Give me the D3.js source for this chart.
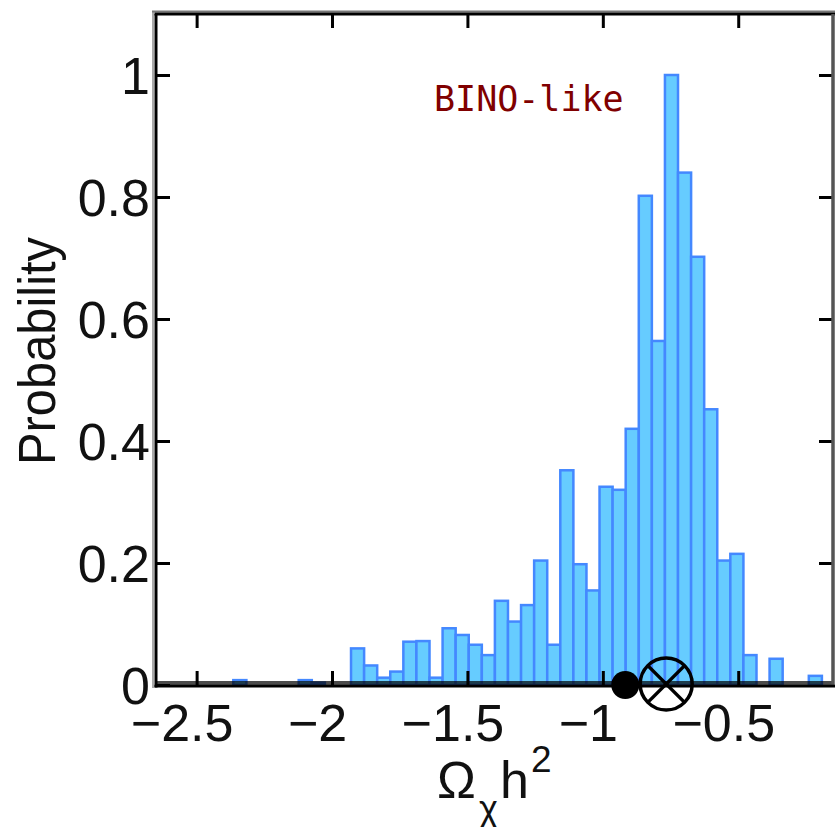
<!DOCTYPE html>
<html>
<head>
<meta charset="utf-8">
<script src="https://cdn.jsdelivr.net/npm/d3@7"></script>
<style>
  html, body { margin: 0; padding: 0; background: #ffffff; }
  svg { display: block; }
</style>
</head>
<body>
<svg id="chart" width="835" height="827"></svg>
<script>
// Histogram of log10(Ω h²): first bin edge and common bin width
const binStart = -2.3645;
const binWidth = 0.0483;
// Normalised probability per bin (peak = 1)
const probability = [
  0.008, 0, 0, 0, 0, 0.008, 0.004, 0, 0, 0.060,
  0.032, 0.012, 0.022, 0.071, 0.072, 0.012, 0.093, 0.082, 0.066, 0.049,
  0.138, 0.104, 0.131, 0.204, 0.066, 0.352, 0.198, 0.155, 0.325, 0.320,
  0.420, 0.802, 0.564, 1.000, 0.840, 0.702, 0.452, 0.204, 0.215, 0.049,
  0, 0.043, 0, 0, 0.015
];
const xTicks = [-2.5, -2, -1.5, -1, -0.5];
const xTickLabels = ["\u22122.5", "\u22122", "\u22121.5", "\u22121", "\u22120.5"];
const yTicks = [0, 0.2, 0.4, 0.6, 0.8, 1];
const yTickLabels = ["0", "0.2", "0.4", "0.6", "0.8", "1"];
const dotValue = -0.917;    // filled reference point
const crossValue = -0.766;  // ⊗ reference point
const panelLabel = "BINO-like";

const svg = d3.select("#chart");
const pL = 156, pR = 833, pT = 14, pB = 685;

const x = d3.scaleLinear().domain([-2.65, -0.15]).range([pL, pR]);
const y = d3.scaleLinear().domain([0, 1.1]).range([pB, pT]);

// Bars
const bins = probability.map((v, i) => ({
  x0: binStart + i * binWidth,
  x1: binStart + (i + 1) * binWidth,
  v
})).filter(d => d.v > 0);

svg.append("g").selectAll("rect")
  .data(bins)
  .join("rect")
  .attr("x", d => x(d.x0))
  .attr("y", d => y(d.v))
  .attr("width", d => x(d.x1) - x(d.x0))
  .attr("height", d => y(0) - y(d.v))
  .attr("fill", "#66ccff")
  .attr("stroke", "#4488ff")
  .attr("stroke-width", 2.5);

// Shaded strip just above the baseline
svg.append("rect")
  .attr("x", pL).attr("y", pB - 4)
  .attr("width", pR - pL).attr("height", 4)
  .attr("fill", "#000").attr("opacity", 0.7);

const font = "'Liberation Sans', Arial, Helvetica, sans-serif";

// Axes (ticks pointing inward)
const gx = svg.append("g").attr("transform", `translate(0,${pB})`)
  .call(d3.axisBottom(x).tickValues(xTicks)
    .tickFormat((d, i) => xTickLabels[i])
    .tickSizeInner(-14).tickSizeOuter(0).tickPadding(19));
const gy = svg.append("g").attr("transform", `translate(${pL},0)`)
  .call(d3.axisLeft(y).tickValues(yTicks)
    .tickFormat((d, i) => yTickLabels[i])
    .tickSizeInner(-14).tickSizeOuter(0).tickPadding(6));
const gt = svg.append("g").attr("transform", `translate(0,${pT})`)
  .call(d3.axisTop(x).tickValues(xTicks).tickFormat("")
    .tickSizeInner(-14).tickSizeOuter(0));
const gr = svg.append("g").attr("transform", `translate(${pR},0)`)
  .call(d3.axisRight(y).tickValues(yTicks.filter(d => d > 0)).tickFormat("")
    .tickSizeInner(-14).tickSizeOuter(0));

[gx, gy, gt, gr].forEach(g => {
  g.select(".domain").remove();
  g.selectAll(".tick line").attr("stroke", "#000").attr("stroke-width", 3);
  g.selectAll(".tick text")
    .attr("fill", "#111")
    .style("font-family", font)
    .style("font-size", "52px");
});
gx.selectAll(".tick text").attr("x", -15);
gy.selectAll(".tick text").attr("dy", "0.36em");

// Frame
svg.append("line").attr("x1", pL - 3).attr("x2", pL - 3)
  .attr("y1", pT - 2).attr("y2", pB + 3)
  .attr("stroke", "#aaaaaa").attr("stroke-width", 2);
svg.append("line").attr("x1", pL - 4).attr("x2", pR + 2)
  .attr("y1", pT - 2.5).attr("y2", pT - 2.5)
  .attr("stroke", "#777777").attr("stroke-width", 2);
svg.append("line").attr("x1", pL).attr("x2", pL)
  .attr("y1", pT).attr("y2", pB + 2.5)
  .attr("stroke", "#000").attr("stroke-width", 3);
svg.append("line").attr("x1", pL - 1.5).attr("x2", pR + 2)
  .attr("y1", pT).attr("y2", pT)
  .attr("stroke", "#000").attr("stroke-width", 3);
svg.append("line").attr("x1", pR).attr("x2", pR)
  .attr("y1", pT).attr("y2", pB)
  .attr("stroke", "#555555").attr("stroke-width", 3.5);
svg.append("line").attr("x1", pL - 1.5).attr("x2", pR + 2)
  .attr("y1", pB + 1.2).attr("y2", pB + 1.2)
  .attr("stroke", "#000").attr("stroke-width", 2.8);

// Reference markers on the baseline
svg.append("circle")
  .attr("cx", x(dotValue)).attr("cy", y(0)).attr("r", 14)
  .attr("fill", "#000");
const cx = x(crossValue), cy = y(0) - 1, r = 26;
const marker = svg.append("g").attr("fill", "none").attr("stroke", "#000").attr("stroke-width", 3.5);
marker.append("circle").attr("cx", cx).attr("cy", cy).attr("r", r);
const k = r * Math.SQRT1_2;
marker.append("line").attr("x1", cx - k).attr("y1", cy - k).attr("x2", cx + k).attr("y2", cy + k);
marker.append("line").attr("x1", cx - k).attr("y1", cy + k).attr("x2", cx + k).attr("y2", cy - k);

// Panel label
svg.append("text")
  .attr("x", 434).attr("y", 111)
  .attr("fill", "#800000")
  .style("font-family", "'DejaVu Sans Mono', 'Liberation Mono', monospace")
  .style("font-size", "35px")
  .text(panelLabel);

// Axis titles
svg.append("text")
  .attr("transform", "translate(55,351) rotate(-90)")
  .attr("text-anchor", "middle")
  .attr("fill", "#111")
  .attr("textLength", 228).attr("lengthAdjust", "spacingAndGlyphs")
  .style("font-family", font)
  .style("font-size", "52px")
  .text("Probability");

const xt = svg.append("text")
  .attr("fill", "#111")
  .style("font-family", font)
  .style("font-size", "52px");
xt.append("tspan").attr("x", 437).attr("y", 798).text("\u03A9");
xt.append("tspan").attr("x", 479).attr("y", 821).style("font-size", "36px").text("\u03C7");
xt.append("tspan").attr("x", 500).attr("y", 798).text("h");
xt.append("tspan").attr("x", 531).attr("y", 772).style("font-size", "37px").text("2");
</script>
</body>
</html>
